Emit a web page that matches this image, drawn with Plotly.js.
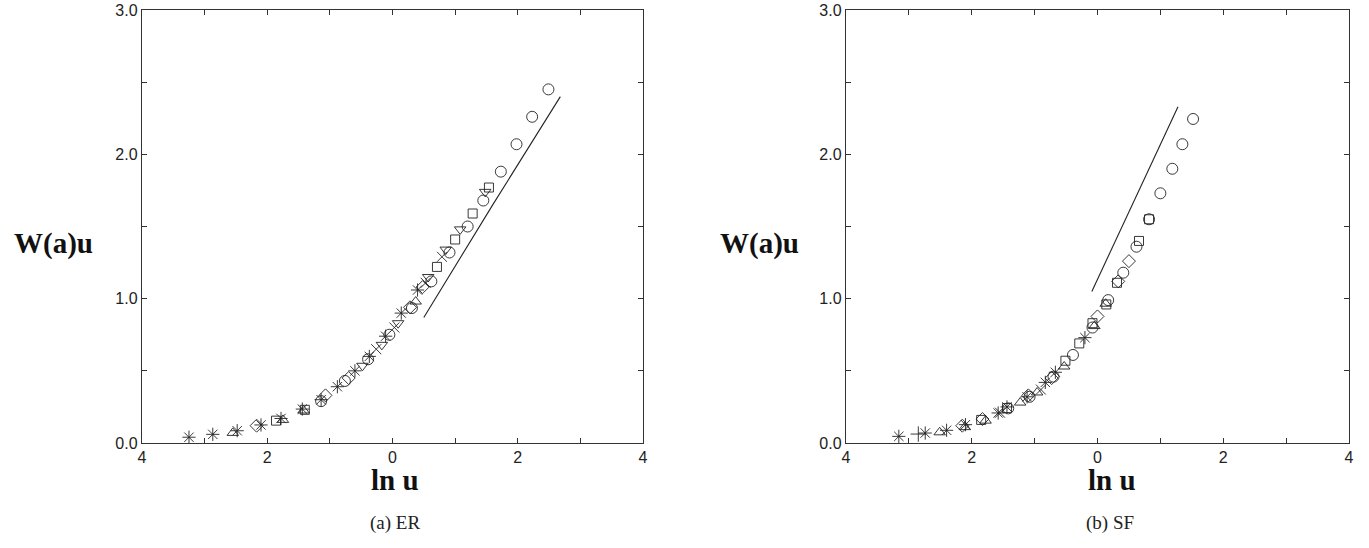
<!DOCTYPE html>
<html>
<head>
<meta charset="utf-8">
<script src="https://cdn.plot.ly/plotly-3.0.1.min.js"></script>
<style>html,body{margin:0;padding:0;background:#fff;}#chart{width:1369px;height:548px;}</style>
</head>
<body>
<div id="chart"></div>
<script>
// ---------- Tick labels ----------
const xTickVals = [-4, -3, -2, -1, 0, 1, 2, 3, 4];
const xTickText = ["4", "", "2", "", "0", "", "2", "", "4"];
const yTickVals = [0, 0.5, 1, 1.5, 2, 2.5, 3];
const yTickText = ["0.0", "", "1.0", "", "2.0", "", "3.0"];

// ---------- Panel (a) ER ----------
const erStarX = [-3.25, -2.87, -2.48, -2.10, -1.78, -1.44, -1.14, -0.88, -0.60, -0.37, -0.11, 0.14, 0.40];
const erStarY = [0.04, 0.06, 0.085, 0.125, 0.17, 0.235, 0.30, 0.39, 0.50, 0.60, 0.74, 0.90, 1.06];
const erCircleX = [-1.14, -0.76, -0.39, -0.05, 0.31, 0.62, 0.91, 1.20, 1.45, 1.73, 1.98, 2.23, 2.49];
const erCircleY = [0.29, 0.43, 0.58, 0.75, 0.935, 1.12, 1.32, 1.50, 1.68, 1.88, 2.07, 2.26, 2.45];
const erSquareX = [-1.86, -1.40, 0.71, 1.00, 1.28, 1.54];
const erSquareY = [0.155, 0.23, 1.22, 1.41, 1.59, 1.77];
const erDiamondX = [-2.17, -1.07, -0.70, 0.28, 0.48];
const erDiamondY = [0.12, 0.33, 0.45, 0.94, 1.08];
const erTriUpX = [-2.55, -1.75, -1.42, 0.37];
const erTriUpY = [0.07, 0.16, 0.225, 0.98];
const erTriDownX = [-0.48, -0.17, 0.09, 0.57, 0.85, 1.08, 1.48];
const erTriDownY = [0.535, 0.68, 0.83, 1.15, 1.34, 1.48, 1.74];
const erXX = [-0.26, 0.03, 0.53, 0.79];
const erXY = [0.65, 0.80, 1.11, 1.29];
const erLineX = [0.50, 1.60, 2.68];
const erLineY = [0.87, 1.65, 2.40];

// ---------- Panel (b) SF ----------
const sfStarX = [-3.16, -2.74, -2.40, -2.10, -1.58, -1.44, -1.12, -0.83, -0.67, -0.20];
const sfStarY = [0.046, 0.069, 0.088, 0.127, 0.208, 0.25, 0.32, 0.42, 0.49, 0.73];
const sfPlusX = [-2.85];
const sfPlusY = [0.062];
const sfTriUpX = [-2.51, -2.11, -1.78, -1.23, -0.96, -0.53, -0.05, 0.13];
const sfTriUpY = [0.074, 0.11, 0.155, 0.28, 0.35, 0.53, 0.81, 0.965];
const sfDiamondX = [-2.15, -1.83, -1.10, -0.73, 0.00, 0.33, 0.50];
const sfDiamondY = [0.12, 0.166, 0.33, 0.45, 0.877, 1.12, 1.26];
const sfSquareX = [-1.85, -1.44, -0.51, -0.29, -0.08, 0.14, 0.31, 0.66, 0.82];
const sfSquareY = [0.16, 0.242, 0.57, 0.69, 0.83, 0.96, 1.11, 1.40, 1.55];
const sfCircleX = [-1.42, -1.08, -0.70, -0.39, -0.08, 0.17, 0.41, 0.62, 0.82, 1.00, 1.19, 1.35, 1.52];
const sfCircleY = [0.24, 0.32, 0.46, 0.61, 0.80, 0.99, 1.18, 1.36, 1.55, 1.73, 1.90, 2.07, 2.245];
const sfXX = [-1.55, -0.90];
const sfXY = [0.21, 0.37];
const sfLineX = [-0.09, 1.28];
const sfLineY = [1.05, 2.33];

// ---------- Build ----------
const INK = '#222';
function pts(x, y, symbol, xa, ya, size) {
  return {
    x: x, y: y, xaxis: xa, yaxis: ya, type: 'scatter', mode: 'markers',
    marker: {symbol: symbol, size: size || 10, color: INK, line: {color: INK, width: 0.9}},
    hoverinfo: 'skip', showlegend: false
  };
}
function line(x, y, xa, ya) {
  return {x: x, y: y, xaxis: xa, yaxis: ya, type: 'scatter', mode: 'lines',
    line: {color: INK, width: 1.1}, hoverinfo: 'skip', showlegend: false};
}

const traces = [
  line(erLineX, erLineY, 'x', 'y'),
  pts(erCircleX, erCircleY, 'circle-open', 'x', 'y', 11),
  pts(erSquareX, erSquareY, 'square-open', 'x', 'y', 9),
  pts(erDiamondX, erDiamondY, 'diamond-open', 'x', 'y', 10),
  pts(erTriUpX, erTriUpY, 'triangle-up-open', 'x', 'y', 10),
  pts(erTriDownX, erTriDownY, 'triangle-down-open', 'x', 'y', 10),
  pts(erXX, erXY, 'x-thin-open', 'x', 'y', 10),
  pts(erStarX, erStarY, 'asterisk-open', 'x', 'y', 11),

  line(sfLineX, sfLineY, 'x2', 'y2'),
  pts(sfCircleX, sfCircleY, 'circle-open', 'x2', 'y2', 11),
  pts(sfSquareX, sfSquareY, 'square-open', 'x2', 'y2', 9),
  pts(sfDiamondX, sfDiamondY, 'diamond-open', 'x2', 'y2', 10),
  pts(sfTriUpX, sfTriUpY, 'triangle-up-open', 'x2', 'y2', 10),
  pts(sfXX, sfXY, 'x-thin-open', 'x2', 'y2', 10),
  pts(sfPlusX, sfPlusY, 'cross-thin-open', 'x2', 'y2', 11),
  pts(sfStarX, sfStarY, 'asterisk-open', 'x2', 'y2', 11)
];

const tickFont = {family: 'Liberation Sans, Arial, sans-serif', size: 16, color: '#222'};
function xAxis(domain, anchor) {
  return {domain: domain, anchor: anchor, range: [-4, 4], tickmode: 'array',
    tickvals: xTickVals, ticktext: xTickText, ticks: 'inside', ticklen: 5, tickwidth: 1,
    tickcolor: '#333', mirror: 'ticks', showline: true, linecolor: '#333', linewidth: 1.2,
    showgrid: false, zeroline: false, tickfont: tickFont, fixedrange: true};
}
function yAxis(anchor) {
  return {domain: [0, 1], anchor: anchor, range: [0, 3], tickmode: 'array',
    tickvals: yTickVals, ticktext: yTickText, ticks: 'inside', ticklen: 5, tickwidth: 1,
    tickcolor: '#333', mirror: 'ticks', showline: true, linecolor: '#333', linewidth: 1.2,
    showgrid: false, zeroline: false, tickfont: tickFont, fixedrange: true};
}

const titleFont = {family: 'Liberation Serif, Times New Roman, serif', size: 29, color: '#111', weight: 'bold'};
const capFont = {family: 'Liberation Serif, Times New Roman, serif', size: 19, color: '#222'};
function ann(text, x, y, font) {
  return {text: text, xref: 'paper', yref: 'paper', x: x, y: y, showarrow: false,
    xanchor: 'center', yanchor: 'middle', font: font};
}
// paper coords: width 1369, plot height 433 (top margin 10, bottom 105)
function px(xp) { return xp / 1369; }
function py(yp) { return (443 - yp) / 433; }

const layout = {
  width: 1369, height: 548,
  margin: {l: 0, r: 0, t: 10, b: 105},
  paper_bgcolor: '#fff', plot_bgcolor: '#fff',
  showlegend: false,
  xaxis: xAxis([142 / 1369, 643 / 1369], 'y'),
  yaxis: yAxis('x'),
  xaxis2: xAxis([846 / 1369, 1349 / 1369], 'y2'),
  yaxis2: yAxis('x2'),
  annotations: [
    ann('<b>W(a)u</b>', px(53), py(244), titleFont),
    ann('<b>W(a)u</b>', px(759), py(244), titleFont),
    ann('<b>ln u</b>', px(395), py(480), titleFont),
    ann('<b>ln u</b>', px(1112), py(480), titleFont),
    ann('(a) ER', px(395), py(523), capFont),
    ann('(b) SF', px(1110), py(523), capFont)
  ]
};

Plotly.newPlot('chart', traces, layout, {displayModeBar: false, staticPlot: true});
</script>
</body>
</html>
